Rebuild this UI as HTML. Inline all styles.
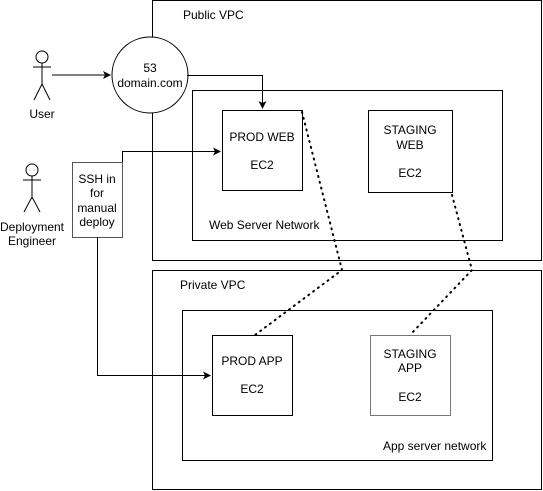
<!DOCTYPE html>
<html><head><style>body{margin:0;background:#fff}svg{display:block}text{font-family:"Liberation Sans",sans-serif;font-size:12px;fill:#000}</style></head><body>
<svg width="543" height="491" viewBox="0 0 543 491" xmlns="http://www.w3.org/2000/svg">
<defs><marker id="a" markerWidth="8" markerHeight="8" refX="7" refY="4" orient="auto" markerUnits="userSpaceOnUse"><path d="M0,0 L8,4 L0,8 L2,4 Z" fill="#000"/></marker></defs>
<g fill="none" stroke="#000" stroke-width="1">
<rect x="152.5" y="0.5" width="389" height="260"/>
<rect x="152.5" y="270.5" width="389" height="219"/>
<rect x="192.5" y="90.5" width="310" height="150"/>
<rect x="222.5" y="110.5" width="80" height="80"/>
<rect x="368.5" y="110.5" width="84" height="82"/>
<rect x="182.5" y="310.5" width="310" height="150"/>
<rect x="212.5" y="335.5" width="80" height="80"/>
<rect x="370.5" y="335.5" width="80" height="80" stroke="#777"/>
<rect x="72.5" y="162.5" width="50" height="75" stroke="#555"/>
<circle cx="150" cy="75" r="38" fill="#fff"/>
<path d="M302,112 L342,270 L255,335" stroke-dasharray="1,5" stroke-width="2" stroke-linecap="round"/>
<path d="M452,195 L472,270 L410,335" stroke-dasharray="1,5" stroke-width="2" stroke-linecap="round"/>
<path d="M52,75 L110,75" marker-end="url(#a)"/>
<path d="M187,75.5 L262.5,75.5 L262.5,108" marker-end="url(#a)"/>
<path d="M122.5,162 L122.5,151.5 L220,151.5" marker-end="url(#a)"/>
<path d="M97.5,237 L97.5,375.5 L210,375.5" marker-end="url(#a)"/>
<circle cx="42" cy="57" r="6"/><path d="M42,63 L42,84 M33,67 L51,67 M42,84 L34,100 M42,84 L50,100"/>
<circle cx="32" cy="170" r="6"/><path d="M32,176 L32,197 M23,180 L41,180 M32,197 L24,212 M32,197 L40,212"/>
</g>
<text x="183" y="19">Public VPC</text>
<text x="150" y="72" text-anchor="middle">53</text>
<text x="150" y="87" text-anchor="middle">domain.com</text>
<text x="42" y="118" text-anchor="middle">User</text>
<text x="262" y="141" text-anchor="middle">PROD WEB</text>
<text x="262" y="169" text-anchor="middle">EC2</text>
<text x="410" y="134" text-anchor="middle">STAGING</text>
<text x="410" y="149" text-anchor="middle">WEB</text>
<text x="410" y="177" text-anchor="middle">EC2</text>
<text x="209" y="229">Web Server Network</text>
<text x="97" y="183" text-anchor="middle">SSH in</text>
<text x="97" y="197" text-anchor="middle">for</text>
<text x="97" y="212" text-anchor="middle">manual</text>
<text x="97" y="226" text-anchor="middle">deploy</text>
<text x="32" y="231" text-anchor="middle">Deployment</text>
<text x="32" y="245" text-anchor="middle">Engineer</text>
<text x="180" y="289">Private VPC</text>
<text x="252" y="365" text-anchor="middle">PROD APP</text>
<text x="252" y="393" text-anchor="middle">EC2</text>
<text x="410" y="358" text-anchor="middle">STAGING</text>
<text x="410" y="372" text-anchor="middle">APP</text>
<text x="410" y="401" text-anchor="middle">EC2</text>
<text x="383" y="450">App server network</text>
</svg></body></html>
